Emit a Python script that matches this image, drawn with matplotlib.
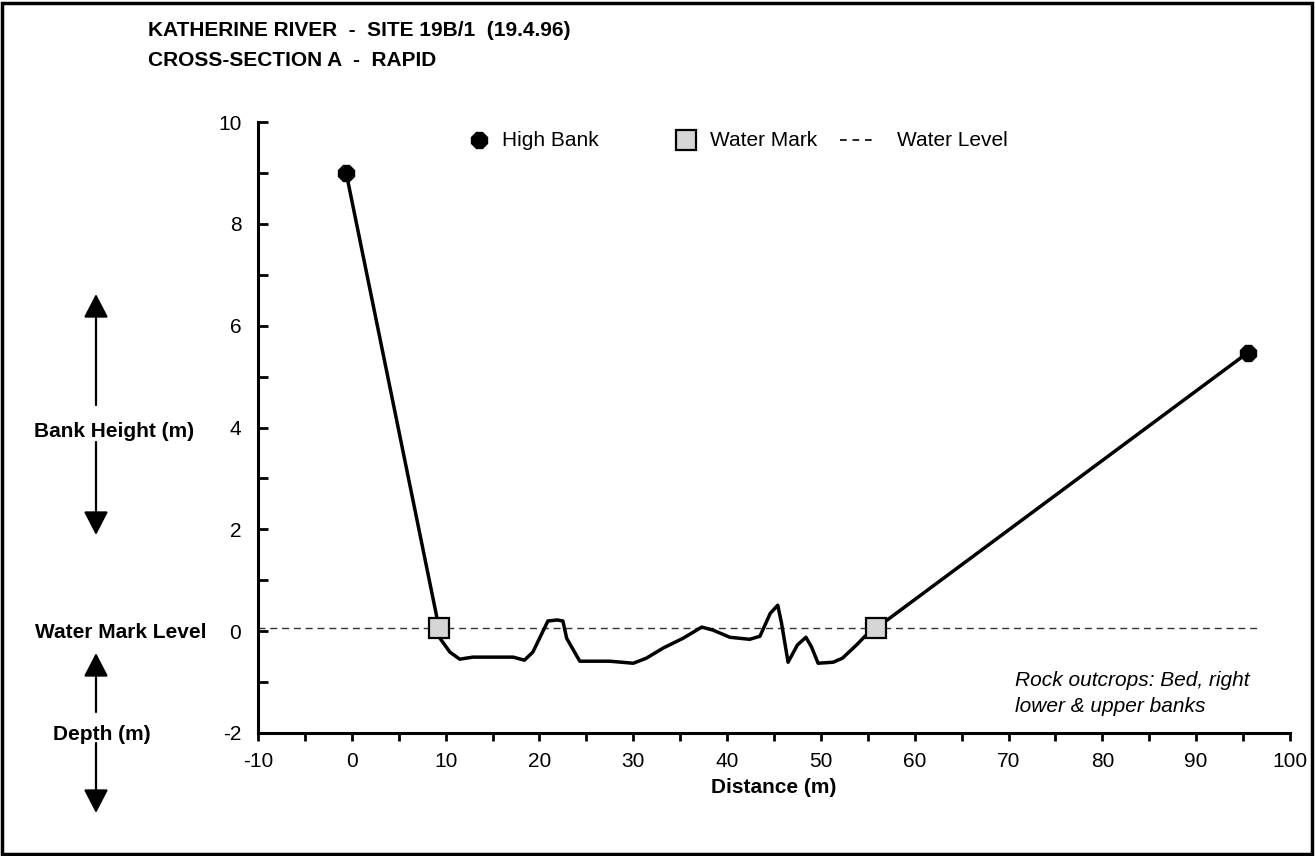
import matplotlib
matplotlib.use("Agg")
import matplotlib.pyplot as plt
from matplotlib.lines import Line2D
from matplotlib.patches import Rectangle, FancyArrowPatch

plt.rcParams['font.family'] = ['Liberation Sans', 'DejaVu Sans']
plt.rcParams['axes.unicode_minus'] = False

# ---- data ----
high_bank_x = [-0.6, 95.5]
high_bank_y = [9.0, 5.47]

water_mark_x = [9.3, 55.9]
water_mark_y = [0.06, 0.06]

water_level_x = [-10, 96.5]
water_level_y = [0.06, 0.06]

profile_x = [-0.6, 9.3, 9.4, 10.45, 11.5, 12.9, 17.2, 18.4, 19.3, 20.9, 21.9, 22.5,
             22.9, 24.3, 27.5, 30.0, 31.4, 33.2, 35.3, 37.3, 38.5, 40.3, 42.4, 43.5,
             44.6, 45.4, 45.8, 46.5, 47.5, 48.4, 49.0, 49.7, 51.3, 52.3, 53.8, 54.7,
             55.9, 95.5]
profile_y = [9.0, 0.06, -0.14, -0.41, -0.55, -0.51, -0.51, -0.57, -0.41, 0.20, 0.22, 0.20,
             -0.14, -0.59, -0.59, -0.63, -0.53, -0.33, -0.14, 0.08, 0.02, -0.12, -0.16, -0.10,
             0.35, 0.51, 0.16, -0.61, -0.27, -0.12, -0.31, -0.63, -0.61, -0.53, -0.27, -0.10,
             0.06, 5.47]

x_ticks = list(range(-10, 101, 10))
y_ticks = list(range(-2, 11, 2))

title_lines = ["KATHERINE RIVER  -  SITE 19B/1  (19.4.96)", "CROSS-SECTION A  -  RAPID"]
legend_labels = ["High Bank", "Water Mark", "Water Level"]

W, H = 1315, 856
fig = plt.figure(figsize=(W / 100, H / 100), dpi=100)
ax = fig.add_axes([258 / W, 1 - 733 / H, (1290 - 258) / W, (733 - 122) / H])

ax.plot(water_level_x, water_level_y, linestyle=(0, (5, 3.5)), color='#333333', lw=1.0, zorder=2)
ax.plot(profile_x, profile_y, color='black', lw=2.5, solid_joinstyle='round', zorder=3)
ax.plot(high_bank_x, high_bank_y, linestyle='none', marker='8', markersize=12,
        color='black', zorder=4)
ax.plot(water_mark_x, water_mark_y, linestyle='none', marker='s', markersize=14,
        markerfacecolor='#d6d6d6', markeredgecolor='black', markeredgewidth=1.6, zorder=5)

ax.set_xlim(-10, 100)
ax.set_ylim(-2, 10)
ax.set_xticks(x_ticks)
ax.set_yticks(y_ticks)
ax.set_xticks(range(-5, 100, 10), minor=True)
ax.set_yticks(range(-1, 10, 2), minor=True)
for s in ['top', 'right']:
    ax.spines[s].set_visible(False)
for s in ['left', 'bottom']:
    ax.spines[s].set_linewidth(2.2)
ax.tick_params(axis='x', which='both', direction='out', length=6, width=2, labelsize=15, pad=8)
ax.tick_params(axis='y', which='both', direction='in', length=7, width=2, labelsize=15, pad=12)
ax.set_xlabel("Distance (m)", fontsize=15, fontweight='bold', labelpad=5)

# legend (drawn by hand to match spacing)
ly = 1 - 140 / H
fig.add_artist(Line2D([479 / W], [ly], linestyle='none', marker='8', markersize=12, color='black'))
fig.text(502 / W, ly, legend_labels[0], fontsize=15, va='center', ha='left')
fig.add_artist(Line2D([686 / W], [ly], linestyle='none', marker='s', markersize=15,
                      markerfacecolor='#d6d6d6', markeredgecolor='black', markeredgewidth=1.6))
fig.text(710 / W, ly, legend_labels[1], fontsize=15, va='center', ha='left')
fig.add_artist(Line2D([840 / W, 876 / W], [ly, ly], linestyle=(0, (4, 3.5)), color='black', lw=1.2))
fig.text(897 / W, ly, legend_labels[2], fontsize=15, va='center', ha='left')

# title
fig.text(148 / W, 1 - 30 / H, title_lines[0], fontsize=15, fontweight='bold', va='center', ha='left')
fig.text(148 / W, 1 - 60 / H, title_lines[1], fontsize=15, fontweight='bold', va='center', ha='left')

# left labels and arrows
ax_x = 96 / W
fig.text(114 / W, 1 - 432 / H, "Bank Height (m)", fontsize=15, fontweight='bold', ha='center', va='center')
fig.text(121 / W, 1 - 632 / H, "Water Mark Level", fontsize=15, fontweight='bold', ha='center', va='center')
fig.text(102 / W, 1 - 735 / H, "Depth (m)", fontsize=15, fontweight='bold', ha='center', va='center')

def arrow(y0, y1):
    a = FancyArrowPatch((ax_x, 1 - y0 / H), (ax_x, 1 - y1 / H), transform=fig.transFigure,
                        arrowstyle='-|>,head_length=1.45,head_width=0.75', mutation_scale=10,
                        shrinkA=0, shrinkB=0, color='black', lw=1.6)
    fig.patches.append(a)

arrow(405, 294)
arrow(442, 535)
arrow(712, 653)
arrow(743, 813)

# annotation
fig.text(1015 / W, 1 - 680 / H, "Rock outcrops: Bed, right",
         fontsize=15, style='italic', va='center', ha='left')
fig.text(1015 / W, 1 - 707 / H, "lower & upper banks",
         fontsize=15, style='italic', va='center', ha='left')

# outer frame
fig.patches.append(Rectangle((2 / W, 2 / H), (W - 5) / W, (H - 5) / H, transform=fig.transFigure,
                             fill=False, edgecolor='black', lw=2.5))

fig.savefig("out.png", dpi=100)
